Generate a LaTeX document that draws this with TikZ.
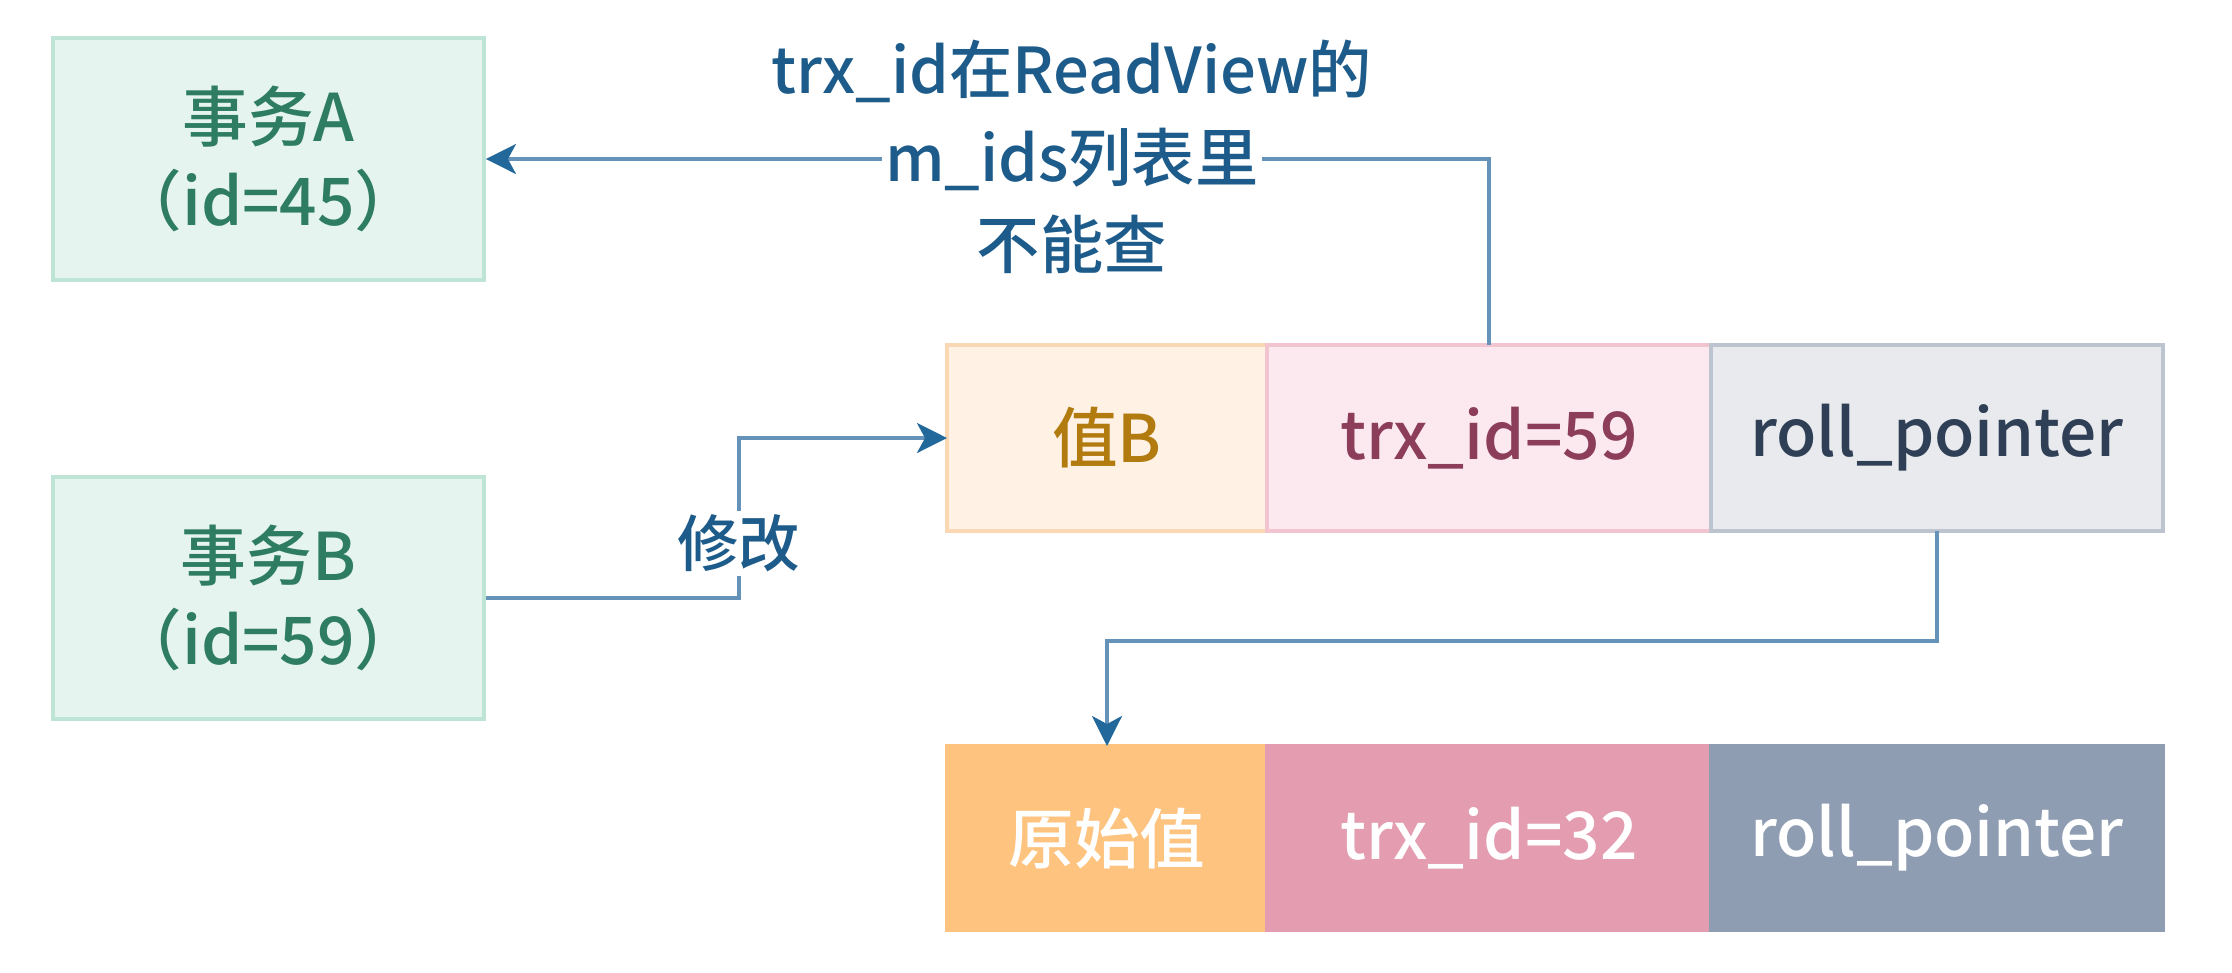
\documentclass[tikz,border=0pt]{standalone}
\usepackage{fontspec}
\setmainfont{Noto Sans CJK SC}[BoldFont={Noto Sans CJK SC Medium}]
\usetikzlibrary{positioning,arrows.meta}

\definecolor{mintfill}{HTML}{E6F4EF}
\definecolor{mintline}{HTML}{BDE4D5}
\definecolor{txgreen}{HTML}{2E7D62}
\definecolor{flowline}{HTML}{6592B8}
\definecolor{flowtip}{HTML}{23689B}
\definecolor{lbltext}{HTML}{1D5B8A}
% new version cells
\definecolor{valfill}{HTML}{FFF1E4}
\definecolor{valline}{HTML}{FAD8B3}
\definecolor{valtext}{HTML}{B27B10}
\definecolor{trxfill}{HTML}{FBE9EF}
\definecolor{trxline}{HTML}{F1C4D0}
\definecolor{trxtext}{HTML}{8C3D5A}
\definecolor{rollfill}{HTML}{E8EAEE}
\definecolor{rollline}{HTML}{BCC4D0}
\definecolor{rolltext}{HTML}{2F3F56}
% old version cells
\definecolor{valdark}{HTML}{FDC37F}
\definecolor{trxdark}{HTML}{E39CB0}
\definecolor{rolldark}{HTML}{8F9DB2}

\begin{document}
\begin{tikzpicture}[
		txbox/.style={draw=mintline, fill=mintfill, line width=1.1pt, minimum width=4.31cm, minimum height=2.42cm,
			align=center, text=txgreen, font=\bfseries\fontsize{18.7}{24}\selectfont},
		cell/.style={line width=1.1pt, minimum height=1.86cm, inner sep=0pt, outer sep=0pt, font=\bfseries\fontsize{18.7}{22}\selectfont},
		flow/.style={-{Stealth[length=0.3cm, width=0.3cm, inset=0.08cm, color=flowtip]}, draw=flowline, line width=1pt},
		lbl/.style={text=lbltext, font=\bfseries\fontsize{18}{22}\selectfont, inner sep=1pt}
	]
	\useasboundingbox (0, 0) rectangle (22.32, -9.72);

	% transactions
	\node[txbox] (txA) at (2.685, -1.59) {事务A\\（id=45）};
	\node[txbox] (txB) at (2.685, -5.98) {事务B\\（id=59）};

	% new version
	\node[cell, minimum width=3.2cm, fill=valfill, draw=valline, text=valtext] (val1) at (11.07, -4.38) {值B};
	\node[cell, minimum width=4.44cm, fill=trxfill, draw=trxline, text=trxtext, anchor=west] (trx1) at (val1.east) {trx\_id=59};
	\node[cell, minimum width=4.52cm, fill=rollfill, draw=rollline, text=rolltext, anchor=west] (roll1) at (trx1.east) {roll\_pointer};

	% old version
	\node[cell, minimum width=3.2cm, minimum height=1.84cm, fill=valdark, draw=valdark, text=white] (val0) at (11.07, -8.38) {原始值};
	\node[cell, minimum width=4.44cm, minimum height=1.84cm, fill=trxdark, draw=trxdark, text=white, anchor=west] (trx0) at (val0.east) {trx\_id=32};
	\node[cell, minimum width=4.52cm, minimum height=1.84cm, fill=rolldark, draw=rolldark, text=white, anchor=west] (roll0) at (trx0.east) {roll\_pointer};

	\draw[flow] (trx1.north) |- node[lbl, pos=0.708, fill=white] (lblmid) {m\_ids列表里} (txA.east);
	\node[lbl, above=0.15cm of lblmid] (lbltop) {trx\_id在ReadView的};
	\node[lbl, below=0.15cm of lblmid] (lblbot) {不能查};

	\draw[flow] (txB.east) -- ++(2.53, 0) |- node[lbl, pos=0.17, fill=white, font=\bfseries\fontsize{17.5}{20}\selectfont] (modify) {修改} (val1.west);

	\draw[flow] (roll1.south) -- ++(0, -1.10) -| (val0.north);
\end{tikzpicture}
\end{document}
